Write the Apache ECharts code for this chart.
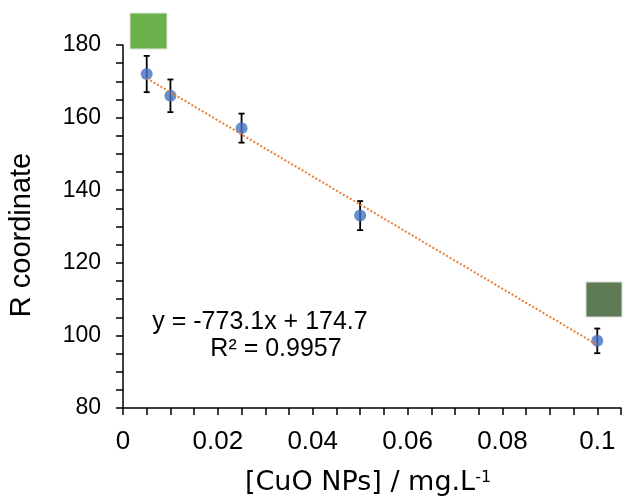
<!DOCTYPE html>
<html>
<head>
<meta charset="utf-8">
<script src="https://cdn.jsdelivr.net/npm/echarts@6/dist/echarts.min.js"></script>
<style>
  html, body { margin: 0; padding: 0; background: #fff; }
  #chart { width: 630px; height: 500px; }
</style>
</head>
<body>
<div id="chart"></div>
<script>
// CuO nanoparticle concentration (mg/L) vs. R colour coordinate
const concentrations = [0.005, 0.01, 0.025, 0.05, 0.1];
const rValues = [172.0, 166.0, 157.1, 133.0, 98.5];
const rErrors = [5.0, 4.5, 4.0, 4.0, 3.4];

// Linear fit reported on the chart
const fitSlope = -773.1;
const fitIntercept = 174.7;
const fitR2 = 0.9957;
const equationText = 'y = ' + fitSlope.toFixed(1) + 'x + ' + fitIntercept.toFixed(1);
const r2Text = 'R² = ' + fitR2.toFixed(4);

// Axis ranges and label steps
const xRange = [0, 0.105];
const xLabelStep = 0.02;
const yRange = [80, 180];
const yLabelStep = 20;

const yTitle = 'R coordinate';
const xTitle = '[CuO NPs] / mg.L';
const xTitleSup = '-1';

// Colour swatches of the lowest and highest concentration samples
const swatchColors = ['#6ab14b', '#5f7b56'];

const points = concentrations.map((c, i) => [c, rValues[i]]);
const errorData = concentrations.map((c, i) => [c, rValues[i] - rErrors[i], rValues[i] + rErrors[i]]);
const xFirst = concentrations[0];
const xLast = concentrations[concentrations.length - 1];
const fitLine = [
  [xFirst, fitSlope * xFirst + fitIntercept],
  [xLast, fitSlope * xLast + fitIntercept]
];

function isStep(v, step) {
  const q = v / step;
  return Math.abs(q - Math.round(q)) < 1e-6;
}

const chart = echarts.init(document.getElementById('chart'), null, { renderer: 'canvas' });

const axisLineStyle = { color: '#000', width: 1.5 };

chart.setOption({
  animation: false,
  backgroundColor: '#fff',
  grid: { left: 123, right: 9, top: 45, bottom: 92, containLabel: false },
  xAxis: {
    type: 'value',
    min: xRange[0],
    max: xRange[1],
    interval: 0.005,
    axisLine: { show: true, onZero: false, lineStyle: axisLineStyle },
    axisTick: { show: true, inside: false, length: 7, lineStyle: axisLineStyle },
    splitLine: { show: false },
    axisLabel: {
      margin: 21,
      fontFamily: 'Liberation Sans',
      fontSize: 26,
      color: '#000',
      showMaxLabel: true,
      formatter: function (v) {
        if (!isStep(v, xLabelStep)) return '';
        return v === 0 ? '0' : String(+v.toFixed(3));
      }
    }
  },
  yAxis: {
    type: 'value',
    min: yRange[0],
    max: yRange[1],
    interval: 5,
    axisLine: { show: true, onZero: false, lineStyle: axisLineStyle },
    axisTick: { show: true, inside: false, length: 7, lineStyle: axisLineStyle },
    splitLine: { show: false },
    axisLabel: {
      margin: 22,
      fontFamily: 'Liberation Sans',
      fontSize: 23,
      color: '#000',
      formatter: function (v) {
        return isStep(v, yLabelStep) ? String(v) : '';
      }
    }
  },
  series: [
    {
      // vertical error bars with short caps
      type: 'custom',
      z: 2,
      data: errorData,
      renderItem: function (params, api) {
        const lo = api.coord([api.value(0), api.value(1)]);
        const hi = api.coord([api.value(0), api.value(2)]);
        const cap = 3;
        const style = { stroke: '#000', lineWidth: 1.8 };
        return {
          type: 'group',
          children: [
            { type: 'line', shape: { x1: lo[0], y1: lo[1], x2: hi[0], y2: hi[1] }, style: style },
            { type: 'line', shape: { x1: lo[0] - cap, y1: lo[1], x2: lo[0] + cap, y2: lo[1] }, style: style },
            { type: 'line', shape: { x1: hi[0] - cap, y1: hi[1], x2: hi[0] + cap, y2: hi[1] }, style: style }
          ]
        };
      }
    },
    {
      type: 'scatter',
      z: 3,
      data: points,
      symbol: 'circle',
      symbolSize: 12,
      itemStyle: { color: '#4472c4' }
    },
    {
      // linear trend line
      type: 'line',
      z: 4,
      data: fitLine,
      symbol: 'none',
      lineStyle: { color: '#ed7d31', width: 2, type: [2, 2] }
    }
  ],
  graphic: [
    {
      type: 'text',
      x: 22, y: 235,
      rotation: Math.PI / 2,
      style: {
        text: yTitle,
        fontFamily: 'Liberation Sans',
        fontSize: 29,
        fill: '#000',
        align: 'center',
        verticalAlign: 'middle'
      }
    },
    {
      type: 'text',
      x: 368, y: 483,
      style: {
        text: xTitle + '{sup|' + xTitleSup + '}',
        fontFamily: 'DejaVu Sans',
        fontSize: 27,
        fill: '#000',
        align: 'center',
        verticalAlign: 'middle',
        rich: {
          sup: { fontFamily: 'DejaVu Sans', fontSize: 16, verticalAlign: 'top', fill: '#000' }
        }
      }
    },
    {
      type: 'text',
      x: 260, y: 322,
      style: {
        text: equationText,
        fontFamily: 'Liberation Sans',
        fontSize: 25,
        fill: '#000',
        align: 'center',
        verticalAlign: 'middle'
      }
    },
    {
      type: 'text',
      x: 276, y: 349,
      style: {
        text: r2Text,
        fontFamily: 'Liberation Sans',
        fontSize: 25,
        fill: '#000',
        align: 'center',
        verticalAlign: 'middle'
      }
    },
    {
      type: 'rect',
      shape: { x: 130, y: 13, width: 37, height: 36 },
      style: { fill: swatchColors[0], stroke: '#dfe8d8', lineWidth: 1 }
    },
    {
      type: 'rect',
      shape: { x: 586, y: 282, width: 36, height: 35 },
      style: { fill: swatchColors[1], stroke: '#d8ddd5', lineWidth: 1 }
    }
  ]
});
</script>
</body>
</html>
